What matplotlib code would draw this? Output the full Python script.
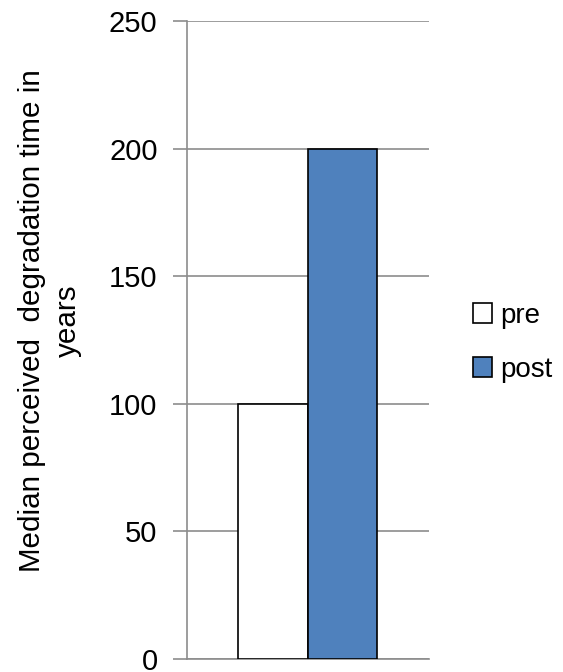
import matplotlib
matplotlib.use('Agg')
import matplotlib.pyplot as plt
from matplotlib.patches import Patch

plt.rcParams['font.family'] = ['Liberation Sans', 'DejaVu Sans']

series = ['pre', 'post']
values = [100, 200]
colors = ['white', '#4F81BD']
yticks = [0, 50, 100, 150, 200, 250]

fig = plt.figure(figsize=(5.63, 6.72), dpi=100)
ax = fig.add_axes([0.3316, 0.0193, 0.4309, 0.9494])

w = 0.2865
for i, (name, val, col) in enumerate(zip(series, values, colors)):
    ax.bar(0.5 - w + i * w, val, width=w, align='edge', color=col,
           edgecolor='black', linewidth=1.2, label=name, zorder=3)

ax.set_xlim(0, 1)
ax.set_ylim(0, 250)
ax.set_yticks(yticks)
ax.set_xticks([])
ax.grid(axis='y', color='#8c8c8c', linewidth=1.2, zorder=0)
ax.tick_params(axis='y', length=10, width=1.2, color='#8c8c8c',
               labelsize=21, pad=11)
for s in ['top', 'right']:
    ax.spines[s].set_visible(False)
ax.spines['left'].set_color('#8c8c8c')
ax.spines['left'].set_linewidth(1.2)
ax.spines['bottom'].set_color('#8c8c8c')
ax.spines['bottom'].set_linewidth(1.2)
ax.set_ylabel('Median perceived  degradation time in\nyears', fontsize=21.3,
              linespacing=1.4)
ax.yaxis.set_label_coords(-0.43, 0.531)

handles = [Patch(facecolor=c, edgecolor='black', linewidth=1.2) for c in colors]
fig.legend(handles, series, loc='center left', bbox_to_anchor=(0.82, 0.49),
           frameon=False, fontsize=20, handlelength=0.7, handleheight=0.7,
           handletextpad=0.3, labelspacing=1.0, borderaxespad=0)

fig.savefig('out.png', dpi=100)
